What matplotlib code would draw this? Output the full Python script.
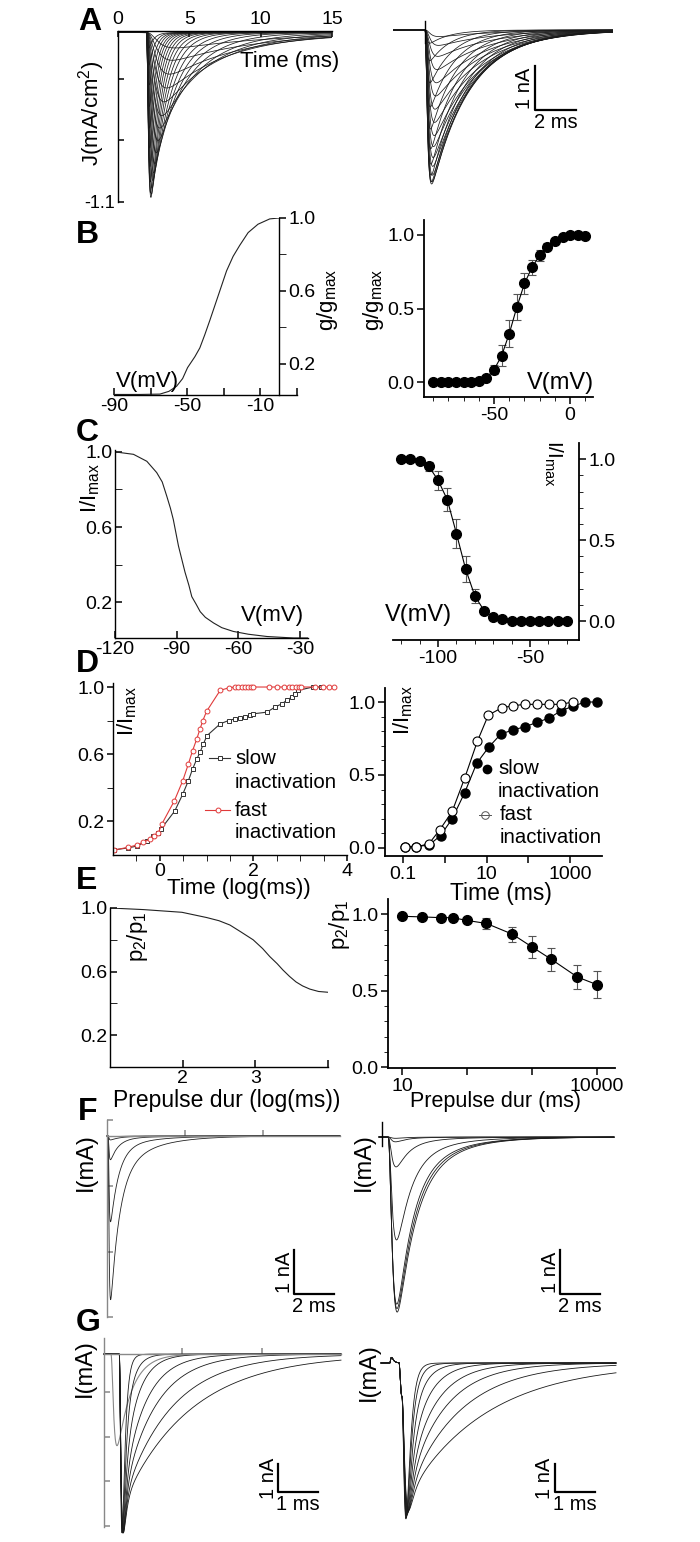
import numpy as np
import matplotlib.pyplot as plt
from matplotlib.lines import Line2D
from matplotlib.ticker import LogLocator, NullFormatter

plt.rcParams['font.family'] = ['Liberation Sans', 'DejaVu Sans']
plt.rcParams['mathtext.default'] = 'regular'
plt.rcParams['axes.unicode_minus'] = False
plt.rcParams['font.size'] = 14

W, H = 700, 1542

# ---- A: simulated (J) and recorded (nA) current families ----
a_sim_amp = [-0.10, -0.18, -0.27, -0.36, -0.45, -0.54, -0.62, -0.70, -0.78, -0.85, -0.91,
             -0.96, -1.01, -1.05, -1.07, -1.04, -0.97, -0.87, -0.75, -0.62, -0.48, -0.34, -0.21, -0.10]
a_sim_taum = [0.55, 0.50, 0.45, 0.40, 0.35, 0.31, 0.27, 0.24, 0.21, 0.18, 0.16, 0.14,
              0.125, 0.11, 0.10, 0.09, 0.085, 0.08, 0.075, 0.07, 0.065, 0.06, 0.055, 0.05]
a_sim_tauh = [7.0, 6.0, 5.2, 4.5, 3.8, 3.2, 2.7, 2.2, 1.8, 1.5, 1.25, 1.05,
              0.9, 0.78, 0.68, 0.61, 0.55, 0.5, 0.46, 0.43, 0.4, 0.38, 0.36, 0.35]

a_rec_amp = [-0.15, -0.35, -0.6, -0.9, -1.2, -1.5, -1.8, -2.1, -2.4, -2.65, -2.9, -3.1,
             -3.3, -3.45, -3.5, -3.45, -3.3, -3.05, -2.7, -2.25, -1.75, -1.2, -0.7, -0.3]
a_rec_taum = [0.18, 0.17, 0.16, 0.15, 0.14, 0.13, 0.12, 0.115, 0.11, 0.1, 0.095, 0.09,
              0.085, 0.08, 0.075, 0.072, 0.07, 0.068, 0.066, 0.064, 0.062, 0.06, 0.06, 0.06]
a_rec_tauh = [2.8, 2.7, 2.6, 2.5, 2.45, 2.4, 2.35, 2.3, 2.2, 2.1, 2.05, 2.0,
              1.95, 1.9, 1.85, 1.75, 1.65, 1.55, 1.45, 1.35, 1.25, 1.15, 1.05, 1.0]

# ---- B: activation ----
b_sim_v = [-90, -75.8, -64.9, -60, -55.8, -52.5, -49.8, -45.8, -43.1, -40.4, -37.6, -34.9, -32.2,
           -28.5, -24.9, -21.3, -16.7, -11.3, -4.9, 0]
b_sim_g = [0.033, 0.033, 0.035, 0.05, 0.078, 0.12, 0.18, 0.24, 0.288, 0.36, 0.44, 0.52, 0.60,
           0.71, 0.79, 0.85, 0.92, 0.966, 0.995, 1.0]
b_v = [-90, -85, -80, -75, -70, -65, -60, -55, -50, -45, -40, -35, -30, -25, -20, -15, -10, -5, 0, 5, 10]
b_g = [0.0, 0.0, 0.0, 0.0, 0.0, 0.0, 0.01, 0.03, 0.085, 0.18, 0.33, 0.51, 0.67, 0.78, 0.86,
       0.92, 0.955, 0.985, 1.0, 1.0, 0.99]
b_err = [0, 0, 0, 0, 0, 0, 0.005, 0.01, 0.03, 0.07, 0.09, 0.09, 0.07, 0.05, 0.04,
         0.025, 0.015, 0.01, 0.01, 0.01, 0.01]

# ---- C: steady-state inactivation ----
c_sim_v = [-120, -111, -104.5, -99.7, -97, -94.8, -93, -91.6, -89.1, -87.5, -85.9, -84, -82.6,
           -80.5, -78.5, -76, -72, -68, -62.4, -55, -46, -33, -26]
c_sim_i = [1.0, 0.987, 0.95, 0.89, 0.84, 0.765, 0.70, 0.64, 0.50, 0.43, 0.36, 0.29, 0.23,
           0.19, 0.15, 0.12, 0.09, 0.065, 0.045, 0.03, 0.018, 0.01, 0.01]
c_v = [-120, -115, -110, -105, -100, -95, -90, -85, -80, -75, -70, -65, -60, -55, -50, -45, -40, -35, -30]
c_i = [1.0, 1.0, 0.99, 0.955, 0.87, 0.75, 0.54, 0.32, 0.155, 0.065, 0.025, 0.01, 0, 0, 0, 0, 0, 0, 0]
c_err = [0, 0, 0, 0.03, 0.06, 0.07, 0.09, 0.08, 0.045, 0.012, 0, 0, 0, 0, 0, 0, 0, 0, 0]

# ---- D: recovery from inactivation ----
d_fast_x = [-0.98, -0.67, -0.49, -0.35, -0.22, -0.12, -0.03, 0.04, 0.31, 0.49, 0.61, 0.70, 0.79, 0.86,
            0.92, 1.0, 1.29, 1.47, 1.6, 1.68, 1.75, 1.82, 1.88, 1.94, 2.0, 2.33, 2.5, 2.65, 2.76,
            2.83, 2.9, 2.97, 3.02, 3.31, 3.48, 3.61, 3.73]
d_fast_y = [0.027, 0.043, 0.057, 0.073, 0.091, 0.11, 0.13, 0.18, 0.32, 0.44, 0.54, 0.62, 0.69, 0.75,
            0.80, 0.855, 0.98, 0.995, 1.0, 1.0, 1.0, 1.0, 1.0, 1.0, 1.0, 1.0, 1.0, 1.0, 1.0,
            1.0, 1.0, 1.0, 1.0, 1.0, 1.0, 1.0, 1.0]
d_slow_x = [-0.98, -0.67, -0.49, -0.28, -0.14, -0.03, 0.02, 0.32, 0.49, 0.61, 0.70, 0.79, 0.86, 0.93,
            1.01, 1.29, 1.47, 1.61, 1.72, 1.83, 1.93, 2.0, 2.29, 2.46, 2.61, 2.71, 2.82, 2.89,
            2.96, 3.27, 3.44]
d_slow_y = [0.027, 0.04, 0.05, 0.08, 0.11, 0.13, 0.15, 0.26, 0.36, 0.44, 0.51, 0.57, 0.61, 0.66,
            0.71, 0.78, 0.80, 0.81, 0.815, 0.82, 0.83, 0.84, 0.85, 0.88, 0.90, 0.92, 0.94, 0.96,
            0.98, 1.0, 1.0]
d_rec_fast_t = [0.11, 0.21, 0.42, 0.76, 1.5, 3.0, 6.0, 11.0, 23, 44, 83, 158, 316, 603, 1150]
d_rec_fast_i = [0.007, 0.007, 0.03, 0.125, 0.25, 0.48, 0.73, 0.91, 0.96, 0.975, 0.984, 0.984,
                0.984, 0.984, 1.0]
d_rec_slow_t = [0.11, 0.21, 0.42, 0.79, 1.5, 3.0, 5.8, 11.2, 21.9, 43.7, 83, 158, 316, 603, 1150, 2290, 4370]
d_rec_slow_i = [0.01, 0.01, 0.02, 0.085, 0.2, 0.38, 0.58, 0.69, 0.78, 0.81, 0.83, 0.86, 0.89,
                0.94, 0.97, 1.0, 1.0]

# ---- E: slow inactivation vs prepulse duration ----
e_sim_x = [1.0, 1.46, 1.99, 2.33, 2.5, 2.65, 2.8, 2.97, 3.1, 3.2, 3.3, 3.38, 3.47, 3.56, 3.65, 3.75, 3.87, 4.0]
e_sim_y = [1.0, 0.99, 0.973, 0.94, 0.92, 0.893, 0.85, 0.80, 0.745, 0.694, 0.65, 0.61, 0.57,
           0.535, 0.51, 0.49, 0.475, 0.47]
e_dur = [10, 20, 40, 60, 100, 200, 500, 1000, 2000, 5000, 10000]
e_ratio = [0.987, 0.983, 0.978, 0.978, 0.96, 0.94, 0.87, 0.787, 0.705, 0.59, 0.54]
e_err = [0, 0, 0, 0, 0.005, 0.038, 0.05, 0.073, 0.075, 0.08, 0.087]

# ---- F / G: current traces (amplitude, decay constants) ----
f_sim_amp = [-2.48, -1.3, -0.36, -0.06, -0.01]
f_sim_tauh = [0.45, 0.42, 0.4, 0.5, 0.5]
f_sim_frac = [0.2, 0.12, 0.1, 0.1, 0.1]
f_rec_amp = [-3.98, -3.9, -3.8, -2.34, -0.68, -0.11, -0.03]
f_rec_tauh = [0.85, 0.8, 0.75, 0.7, 0.6, 0.5, 0.5]
f_rec_frac = [0.22, 0.2, 0.18, 0.15, 0.12, 0.1, 0.1]
g_sim_amp = [-4.0, -4.0, -4.0, -4.0, -4.0, -4.0, -4.0]
g_sim_taus = [0.1, 0.2, 0.35, 0.55, 0.8, 1.2, 1.7]
g_sim_frac = [0.15, 0.25, 0.3, 0.33, 0.35, 0.36, 0.37]
g_rec_amp = [-5.9, -5.9, -5.9, -5.9, -5.9, -5.9, -5.9, -5.9]
g_rec_taus = [0.12, 0.2, 0.3, 0.45, 0.65, 0.9, 1.3, 2.0]
g_rec_frac = [0.1, 0.2, 0.27, 0.32, 0.36, 0.39, 0.42, 0.45]


def trace(t, amp, t0, tau_m, tau_h, frac_slow=0.0, tau_s=1.0):
    s = np.clip(t - t0, 0, None)
    act = (1 - np.exp(-s / tau_m)) ** 3
    inact = (1 - frac_slow) * np.exp(-s / tau_h) + frac_slow * np.exp(-s / tau_s)
    w = act * inact
    return amp * w / w.max()


fig = plt.figure(figsize=(W / 100, H / 100), dpi=100)


def px_axes(l, t, r, b):
    return fig.add_axes([l / W, 1 - b / H, (r - l) / W, (b - t) / H])


def ftext(x, y, s, **kw):
    kw.setdefault('ha', 'center')
    kw.setdefault('va', 'center')
    fig.text(x / W, 1 - y / H, s, **kw)


def fig_line(xs, ys, **kw):
    fig.add_artist(Line2D([x / W for x in xs], [1 - y / H for y in ys], **kw))


def scalebar(x, y_top, y_bot, x_right, vlab, hlab):
    fig_line([x, x, x_right], [y_top, y_bot, y_bot], color='k', lw=1.6)
    ftext(x - 10, (y_top + y_bot) / 2, vlab, rotation=90, fontsize=14.5)
    ftext((x + x_right) / 2, y_bot + 3, hlab, va='top', fontsize=14.5)


def style(ax, show=('left', 'bottom'), lw=1.3, color='k'):
    for side in ['left', 'right', 'top', 'bottom']:
        ax.spines[side].set_visible(side in show)
        ax.spines[side].set_linewidth(lw)
        ax.spines[side].set_color(color)
    ax.patch.set_alpha(0)
    ax.tick_params(labelsize=14, width=1.1, color=color, pad=2)


# panel letters
for letter, (lx, ly) in zip('ABCDEFG', [(90, 22), (87, 235), (87, 433), (87, 664),
                                        (87, 881), (88, 1112), (88, 1323)]):
    ftext(lx, ly, letter, fontsize=23, fontweight='bold')

# ---------------- A left ----------------
ax = px_axes(118, 31, 332, 202)
style(ax, show=('left', 'top'), lw=1.0)
t = np.linspace(0, 15, 3000)
for amp, tm, th in zip(a_sim_amp, a_sim_taum, a_sim_tauh):
    ax.plot(t, trace(t, amp, 2.0, tm, th), color='#1a1a1a', lw=0.55)
ax.set_xlim(0, 15)
ax.set_ylim(-1.1, 0.01)
ax.xaxis.tick_top()
ax.set_xticks([0, 5, 10, 15])
ax.set_yticks([-1.1, -0.7, -0.3])
ax.set_yticklabels(['-1.1', '', ''])
ax.tick_params(direction='in', length=4)
ax.tick_params(axis='y', labelsize=13)
ftext(290, 62, 'Time (ms)', fontsize=16)
ftext(92, 113, 'J(mA/cm$^2$)', rotation=90, fontsize=16)

# ---------------- A right ----------------
ax = px_axes(393, 20, 613, 200)
ax.axis('off')
t = np.linspace(0, 10.73, 3000)
for amp, tm, th in zip(a_rec_amp, a_rec_taum, a_rec_tauh):
    ax.plot(t, trace(t, amp, 1.56, tm, th), color='#1a1a1a', lw=0.55)
ax.plot([1.56, 1.56], [-0.3, 0.2], color='k', lw=1.0)
ax.set_xlim(0, 10.73)
ax.set_ylim(-3.864, 0.227)
scalebar(535, 66, 110, 576, '1 nA', '2 ms')

# ---------------- B left ----------------
ax = px_axes(114, 218, 297, 395)
style(ax, show=('right', 'bottom'), lw=1.0)
ax.spines['right'].set_position(('data', 0))
ax.plot(b_sim_v, b_sim_g, color='#222', lw=0.8)
ax.set_xlim(-90, 10)
ax.set_ylim(0.03, 1.0)
ax.yaxis.tick_right()
ax.set_yticks([0.2, 0.6, 1.0])
ax.set_yticks([0.4, 0.8], minor=True)
ax.set_xticks([-90, -70, -50, -30, -10, 10])
ax.set_xticklabels(['-90', '', '-50', '', '-10', ''])
ax.tick_params(axis='y', which='both', direction='out', length=5)
ax.tick_params(axis='x', direction='in', length=5)
ftext(147, 382, 'V(mV)', fontsize=16)
ftext(327, 300, 'g/g$_{max}$', rotation=90, fontsize=16)

# ---------------- B right ----------------
ax = px_axes(424, 220, 593, 397)
style(ax)
ax.errorbar(b_v, b_g, yerr=b_err, fmt='none', ecolor='#555', elinewidth=0.8, capsize=3, capthick=0.8)
ax.plot(b_v, b_g, color='k', lw=0.8, marker='o', ms=7, mfc='k', mec='k')
ax.set_xlim(-96, 15)
ax.set_ylim(-0.1, 1.1)
ax.set_yticks([0, 0.5, 1.0])
ax.set_yticklabels(['0.0', '0.5', '1.0'])
ax.set_xticks([-50, 0])
ax.set_xticklabels(['-50', '0'])
ax.set_xticks([-90, -80, -70, -60, -40, -30, -20, -10, 10], minor=True)
ax.tick_params(direction='out', length=5)
ax.tick_params(which='minor', direction='out', length=3)
ftext(560, 383, 'V(mV)', fontsize=17)
ftext(374, 300, 'g/g$_{max}$', rotation=90, fontsize=16)

# ---------------- C left ----------------
ax = px_axes(115, 450, 308, 638)
style(ax, lw=1.0)
ax.plot(c_sim_v, c_sim_i, color='#222', lw=0.8)
ax.set_xlim(-120, -26)
ax.set_ylim(0.01, 1.01)
ax.set_yticks([0.2, 0.6, 1.0])
ax.set_yticks([0.4, 0.8], minor=True)
ax.set_xticks([-120, -90, -60, -30])
ax.tick_params(which='both', direction='in', length=5)
ftext(272, 615, 'V(mV)', fontsize=16)
ftext(90, 488, 'I/I$_{max}$', rotation=90, fontsize=16)

# ---------------- C right ----------------
ax = px_axes(393, 443, 579, 640)
style(ax, show=('right', 'bottom'))
ax.errorbar(c_v, c_i, yerr=c_err, fmt='none', ecolor='#555', elinewidth=0.8, capsize=3, capthick=0.8)
ax.plot(c_v, c_i, color='k', lw=0.8, marker='o', ms=7, mfc='k', mec='k')
ax.set_xlim(-124.5, -23.4)
ax.set_ylim(-0.117, 1.1)
ax.yaxis.tick_right()
ax.set_yticks([0, 0.5, 1.0])
ax.set_yticklabels(['0.0', '0.5', '1.0'])
ax.set_yticks([0.1, 0.2, 0.3, 0.4, 0.6, 0.7, 0.8, 0.9], minor=True)
ax.set_xticks([-100, -50])
ax.set_xticklabels(['-100', '-50'])
ax.set_xticks([-120, -110, -90, -80, -70, -60, -40, -30], minor=True)
ax.tick_params(direction='out', length=5)
ax.tick_params(which='minor', direction='out', length=3)
ftext(418, 615, 'V(mV)', fontsize=17)
ftext(553, 464, 'I/I$_{max}$', rotation=270, fontsize=15)

# ---------------- D left ----------------
red = '#e03a3a'
ax = px_axes(113, 683, 347, 855)
style(ax, lw=1.0)
ax.plot(d_slow_x, d_slow_y, color='#333', lw=0.8, marker='s', ms=3.5, mfc='white', mec='#333', mew=0.7)
ax.plot(d_fast_x, d_fast_y, color=red, lw=0.8, marker='o', ms=3.5, mfc='white', mec=red, mew=0.7)
ax.set_xlim(-1, 4)
ax.set_ylim(-0.003, 1.024)
ax.set_yticks([0.2, 0.6, 1.0])
ax.set_yticks([0.4, 0.8], minor=True)
ax.set_xticks([0, 2, 4])
ax.set_xticks([-0.5, 0.5, 1, 1.5, 2.5, 3, 3.5], minor=True)
ax.tick_params(which='both', direction='out', length=4)
ftext(127, 711, 'I/I$_{max}$', rotation=90, fontsize=16)
ftext(239, 889, 'Time (log(ms))', fontsize=16)
fig_line([209, 230], [758, 758], color='#333', lw=0.8)
fig_line([219.5], [758], ls='none', marker='s', ms=3.5, mfc='white', mec='#333', mew=0.7)
fig_line([205, 230], [810, 810], color=red, lw=0.8)
fig_line([217.5], [810], ls='none', marker='o', ms=3.5, mfc='white', mec=red, mew=0.7)
for txt, yy in [('slow', 758), ('inactivation', 782), ('fast', 810), ('inactivation', 832)]:
    ftext(235, yy, txt, ha='left', fontsize=14.7)

# ---------------- D right ----------------
ax = px_axes(385, 688, 602, 856)
style(ax)
ax.set_xscale('log')
ax.plot(d_rec_slow_t, d_rec_slow_i, color='k', lw=0.8, marker='o', ms=6.5, mfc='k', mec='k')
ax.plot(d_rec_fast_t, d_rec_fast_i, color='k', lw=0.8, marker='o', ms=6.5, mfc='white', mec='k', mew=0.8)
ax.set_xlim(0.037, 5800)
ax.set_ylim(-0.055, 1.096)
ax.set_yticks([0, 0.5, 1.0])
ax.set_yticklabels(['0.0', '0.5', '1.0'])
ax.set_yticks([0.1, 0.2, 0.3, 0.4, 0.6, 0.7, 0.8, 0.9], minor=True)
ax.set_xticks([0.1, 1, 10, 100, 1000])
ax.set_xticklabels(['0.1', '', '10', '', '1000'])
ax.xaxis.set_minor_locator(LogLocator(base=10, subs=np.arange(2, 10)))
ax.xaxis.set_minor_formatter(NullFormatter())
ax.tick_params(direction='out', length=5)
ax.tick_params(which='minor', direction='out', length=3)
ftext(403, 710, 'I/I$_{max}$', rotation=90, fontsize=16)
ftext(501, 893, 'Time (ms)', fontsize=16.5)
fig_line([487], [769], ls='none', marker='o', ms=6, mfc='k', mec='k')
fig_line([479, 491], [815, 815], color='#555', lw=0.7)
fig_line([485], [815], ls='none', marker='o', ms=5.5, mfc='none', mec='#555', mew=0.7)
for txt, xx, yy in [('slow', 498, 769), ('inactivation', 498, 792), ('fast', 500, 815),
                    ('inactivation', 500, 838)]:
    ftext(xx, yy, txt, ha='left', fontsize=14.7)

# ---------------- E left ----------------
ax = px_axes(110, 908, 328, 1067)
style(ax, lw=1.0)
ax.plot(e_sim_x, e_sim_y, color='#222', lw=0.8)
ax.set_xlim(1, 4)
ax.set_ylim(0, 1.0)
ax.set_yticks([0.2, 0.6, 1.0])
ax.set_yticks([0.4, 0.8], minor=True)
ax.set_xticks([2, 3, 4])
ax.set_xticklabels(['2', '3', ''])
ax.tick_params(which='both', direction='in', length=5)
ftext(137, 937, 'p$_2$/p$_1$', rotation=90, fontsize=16)
ftext(227, 1100, 'Prepulse dur (log(ms))', fontsize=16.5)

# ---------------- E right ----------------
ax = px_axes(388, 899, 615, 1068)
style(ax)
ax.set_xscale('log')
ax.errorbar(e_dur, e_ratio, yerr=e_err, fmt='none', ecolor='#555', elinewidth=0.8, capsize=3, capthick=0.8)
ax.plot(e_dur, e_ratio, color='k', lw=0.8, marker='o', ms=7, mfc='k', mec='k')
ax.set_xlim(6.1, 19000)
ax.set_ylim(-0.005, 1.1)
ax.set_yticks([0, 0.5, 1.0])
ax.set_yticklabels(['0.0', '0.5', '1.0'])
ax.set_yticks([0.1, 0.2, 0.3, 0.4, 0.6, 0.7, 0.8, 0.9], minor=True)
ax.set_xticks([10, 100, 1000, 10000])
ax.set_xticklabels(['10', '', '', '10000'])
ax.xaxis.set_minor_locator(LogLocator(base=10, subs=np.arange(2, 10)))
ax.xaxis.set_minor_formatter(NullFormatter())
ax.tick_params(direction='out', length=5)
ax.tick_params(which='minor', direction='out', length=3)
ftext(340, 925, 'p$_2$/p$_1$', rotation=90, fontsize=16)
ftext(496, 1102, 'Prepulse dur (ms)', fontsize=15.5)

# ---------------- F left ----------------
grey = '#888888'
ax = px_axes(107, 1120, 340, 1317)
style(ax, lw=1.0, color=grey)
ax.spines['bottom'].set_position(('data', 0))
t = np.linspace(0, 11.95, 4000)
for amp, th, fr in zip(f_sim_amp, f_sim_tauh, f_sim_frac):
    ax.plot(t, trace(t, amp, 0.05, 0.035, th, fr, 1.7), color='#222', lw=0.6, clip_on=False)
ax.set_xlim(0, 11.95)
ax.set_ylim(-2.742, 0.242)
ax.set_xticks([4, 8])
ax.set_yticks([0.242, -0.758, -1.758, -2.742])
ax.set_xticklabels([])
ax.set_yticklabels([])
ax.tick_params(direction='in', length=4)
scalebar(294, 1250, 1294, 334, '1 nA', '2 ms')
ftext(86, 1162, 'I(mA)', rotation=90, fontsize=17)

# ---------------- F right ----------------
ax = px_axes(379, 1115, 614, 1320)
ax.axis('off')
t = np.linspace(0, 11.75, 4000)
for amp, th, fr in zip(f_rec_amp, f_rec_tauh, f_rec_frac):
    ax.plot(t, trace(t, amp, 0.45, 0.15, th, fr, 2.0), color='#1a1a1a', lw=0.6, clip_on=False)
ax.plot([0.15, 0.15], [-0.2, 0.35], color='k', lw=1.0)
ax.set_xlim(0, 11.75)
ax.set_ylim(-4.16, 0.5)
scalebar(560, 1250, 1294, 600, '1 nA', '2 ms')
ftext(364, 1162, 'I(mA)', rotation=90, fontsize=17)

# ---------------- G left ----------------
ax = px_axes(104, 1338, 341, 1527)
style(ax, lw=1.0, color=grey)
ax.spines['bottom'].set_position(('data', 0))
t = np.linspace(0, 5.925, 4000)
ax.plot(t, trace(t, -2.05, 0.17, 0.05, 0.35), color=grey, lw=0.8, clip_on=False)
for amp, ts, fr in zip(g_sim_amp, g_sim_taus, g_sim_frac):
    ax.plot(t, trace(t, amp, 0.38, 0.035, 0.07, fr, ts), color='#1a1a1a', lw=0.6, clip_on=False)
ax.set_xlim(0, 5.925)
ax.set_ylim(-3.87, 0.36)
ax.set_xticks([1.95, 3.95])
ax.set_yticks([-0.85, -1.85, -2.85, -3.85])
ax.set_xticklabels([])
ax.set_yticklabels([])
ax.tick_params(direction='in', length=4)
scalebar(278, 1464, 1492, 318, '1 nA', '1 ms')
ftext(85, 1368, 'I(mA)', rotation=90, fontsize=17)

# ---------------- G right ----------------
ax = px_axes(381, 1340, 616, 1535)
ax.axis('off')
t = np.linspace(0, 5.875, 4000)
bump = trace(t, 0.2, 0.22, 0.02, 0.05)
shoulder = trace(t, -1.2, 0.45, 0.03, 0.12)
for amp, ts, fr in zip(g_rec_amp, g_rec_taus, g_rec_frac):
    ax.plot(t, bump + shoulder + trace(t, amp + 1.0, 0.52, 0.06, 0.1, fr, ts),
            color='#1a1a1a', lw=0.6, clip_on=False)
ax.set_xlim(0, 5.875)
ax.set_ylim(-6.14, 0.82)
scalebar(555, 1464, 1492, 595, '1 nA', '1 ms')
ftext(369, 1372, 'I(mA)', rotation=90, fontsize=17)

fig.savefig('out.png', dpi=100)
